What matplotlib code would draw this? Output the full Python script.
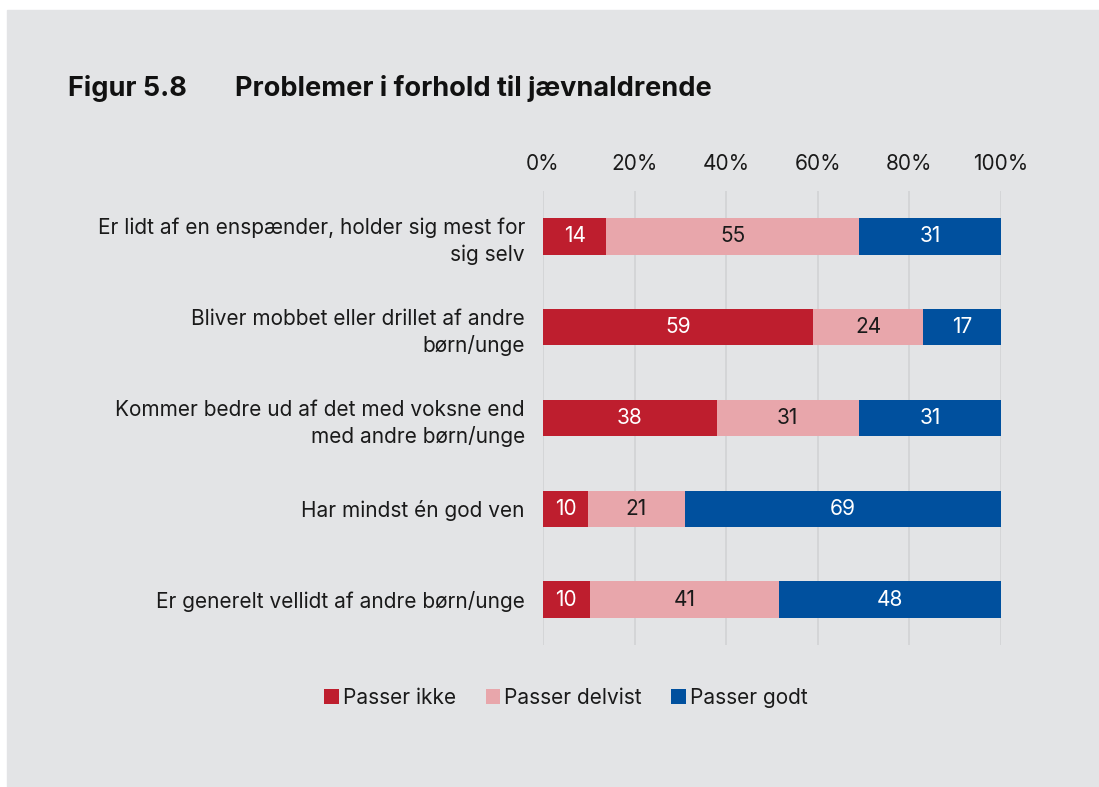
import matplotlib.pyplot as plt
import numpy as np

plt.rcParams["font.family"] = ["Inter", "DejaVu Sans"]

categories = [
    "Er lidt af en enspænder, holder sig mest for\nsig selv",
    "Bliver mobbet eller drillet af andre\nbørn/unge",
    "Kommer bedre ud af det med voksne end\nmed andre børn/unge",
    "Har mindst én god ven",
    "Er generelt vellidt af andre børn/unge",
]
# shares in percent (labels shown rounded)
passer_ikke = [13.8, 59.0, 37.9, 9.8, 10.2]
passer_delvist = [55.2, 24.0, 31.1, 21.2, 41.4]
passer_godt = [31.0, 17.0, 31.0, 69.0, 48.4]
series_names = ["Passer ikke", "Passer delvist", "Passer godt"]
colors = ["#be1e2e", "#e8a6ab", "#00509e"]
text_colors = ["white", "#1a1a1a", "white"]
xticks = [0, 20, 40, 60, 80, 100]

BG = "#e3e4e6"
W, H = 1099, 787
FS = 15

fig = plt.figure(figsize=(W / 100, H / 100), dpi=100, facecolor="white")
fig.patches.append(plt.Rectangle((7 / W, 0), 1 - 7 / W, 1 - 10 / H,
                                 transform=fig.transFigure, color=BG, zorder=-10))

ax = fig.add_axes([543 / W, 1 - 645 / H, (1001 - 543) / W, (645 - 191) / H])
ax.patch.set_alpha(0)

y = np.arange(len(categories))
left = np.zeros(len(categories))
for vals, name, col, tc in zip([passer_ikke, passer_delvist, passer_godt],
                               series_names, colors, text_colors):
    vals = np.array(vals, dtype=float)
    ax.barh(y, vals, left=left, height=0.4, color=col, label=name, zorder=3)
    for yi, l, v in zip(y, left, vals):
        ax.text(l + v / 2, yi, f"{round(v)}", ha="center", va="center",
                color=tc, fontsize=FS, zorder=4)
    left += vals

ax.set_ylim(len(categories) - 0.5, -0.5)
ax.set_xlim(0, 100)
ax.set_xticks(xticks)
ax.set_xticklabels([f"{t}%" for t in xticks], fontsize=FS, color="#1a1a1a")
ax.xaxis.tick_top()
ax.tick_params(axis="x", length=0, pad=12)
ax.set_yticks(y)
ax.set_yticklabels(categories, fontsize=FS, color="#1a1a1a", linespacing=1.38)
ax.tick_params(axis="y", length=0, pad=13)
ax.grid(axis="x", color="#d2d3d5", linewidth=1.2, zorder=0)
for s in ax.spines.values():
    s.set_visible(False)

fig.text(68 / W, 1 - 88 / H, "Figur 5.8", fontsize=19.5, fontweight="bold",
         va="center", ha="left", color="#111111")
fig.text(235 / W, 1 - 88 / H, "Problemer i forhold til jævnaldrende", fontsize=19.5,
         fontweight="bold", va="center", ha="left", color="#111111")

leg = fig.legend(loc="center", bbox_to_anchor=(566 / W, 1 - 698 / H), ncol=3,
                 frameon=False, fontsize=FS, handlelength=0.7, handleheight=0.7,
                 handletextpad=0.2, columnspacing=1.4)
for t in leg.get_texts():
    t.set_color("#1a1a1a")

fig.savefig("out.png", dpi=100, facecolor="white")
